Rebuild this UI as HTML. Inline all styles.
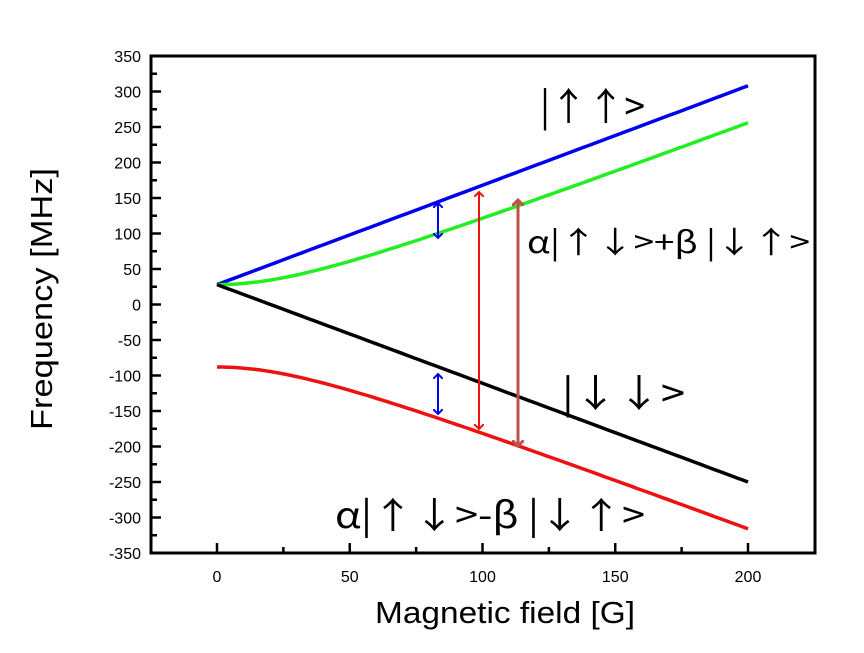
<!DOCTYPE html>
<html><head><meta charset="utf-8"><style>
body{margin:0;background:#fff;width:864px;height:648px;overflow:hidden}
svg text{font-family:"Liberation Sans","DejaVu Sans",sans-serif}
svg text.j{font-family:"Noto Sans CJK JP","Liberation Sans",sans-serif}
</style></head><body>
<svg id="s" width="864" height="648" viewBox="0 0 864 648" xmlns="http://www.w3.org/2000/svg">
<defs>
<marker id="ab" markerWidth="10" markerHeight="10" refX="5" refY="5" orient="auto-start-reverse" markerUnits="userSpaceOnUse"><path d="M0,0 L5,5 L0,10" fill="none" stroke="#0000ee" stroke-width="2"/></marker>
<marker id="ar" markerWidth="10" markerHeight="10" refX="5" refY="5" orient="auto-start-reverse" markerUnits="userSpaceOnUse"><path d="M0,0 L5,5 L0,10" fill="none" stroke="#ee1111" stroke-width="2"/></marker>
<marker id="an" markerWidth="12" markerHeight="12" refX="6" refY="6" orient="auto-start-reverse" markerUnits="userSpaceOnUse"><path d="M0,0 L6,6 L0,12" fill="none" stroke="#c0504d" stroke-width="3"/></marker>
</defs>
<rect x="151" y="56" width="664" height="497" fill="none" stroke="#000" stroke-width="3"/>
<g id="ticks" stroke="#000" stroke-width="2.5"></g>
<g id="labels" font-size="16" fill="#000"></g>
<g id="curves" fill="none" stroke-width="3.5" stroke-linejoin="round"></g>
<line x1="438" y1="203" x2="438" y2="238" stroke="#0000ee" stroke-width="2" marker-start="url(#ab)" marker-end="url(#ab)"/>
<line x1="438" y1="374" x2="438" y2="414" stroke="#0000ee" stroke-width="2" marker-start="url(#ab)" marker-end="url(#ab)"/>
<line x1="479" y1="192" x2="479" y2="429" stroke="#ee1111" stroke-width="2" marker-start="url(#ar)" marker-end="url(#ar)"/>
<line x1="518" y1="200" x2="518" y2="446" stroke="#c0504d" stroke-width="3" marker-start="url(#an)" marker-end="url(#an)"/>
<text class="j" x="540" y="120" font-size="38" textLength="105" lengthAdjust="spacingAndGlyphs">|↑↑&gt;</text>
<text class="j" x="527" y="253" font-size="30" textLength="283" lengthAdjust="spacingAndGlyphs">α|↑↓&gt;+β |↓↑&gt;</text>
<text class="j" x="562" y="407" font-size="38" textLength="123" lengthAdjust="spacingAndGlyphs">|↓↓&gt;</text>
<text class="j" x="335" y="528" font-size="36" textLength="310" lengthAdjust="spacingAndGlyphs">α|↑↓&gt;-β |↓↑&gt;</text>
<text x="375" y="623" font-size="31" textLength="260" lengthAdjust="spacingAndGlyphs">Magnetic field [G]</text>
<text transform="translate(52,430) rotate(-90)" font-size="31" textLength="262" lengthAdjust="spacingAndGlyphs">Frequency [MHz]</text>
</svg>
<script>
var NS="http://www.w3.org/2000/svg";
function X(b){return 217+b*2.655}
function Y(f){return 304.5-f*0.71}
var t=document.getElementById('ticks'),l=document.getElementById('labels'),c=document.getElementById('curves');
function el(p,n,a,txt){var e=document.createElementNS(NS,n);for(var k in a)e.setAttribute(k,a[k]);if(txt)e.textContent=txt;p.appendChild(e);return e}
for(var v=-350;v<=350;v+=25){var y=Y(v),big=v%50==0;el(t,'line',{x1:151,x2:151+(big?10:6),y1:y,y2:y});
 if(big)el(l,'text',{x:141,y:y+6,'text-anchor':'end'},String(v));}
for(var b=-25;b<=225;b+=25){var x=X(b);if(x<153||x>813)continue;var big=b%50==0;el(t,'line',{x1:x,x2:x,y1:553,y2:553-(big?10:6)});
 if(big)el(l,'text',{x:x,y:582,'text-anchor':'middle'},String(b));}
function curve(f,col){var d='';for(var b=0;b<=200;b+=2){d+=(b?'L':'M')+X(b).toFixed(1)+','+Y(f(b)).toFixed(1)}el(c,'path',{d:d,stroke:col})}
function s(b){return Math.sqrt(58*58+Math.pow(1.4*b,2))}
curve(function(b){return 28+1.4*b},'#0000ee');
curve(function(b){return -30+s(b)},'#22ee22');
curve(function(b){return 28-1.39*b},'#000');
curve(function(b){return -30-s(b)},'#ee1111');
</script>
</body></html>
